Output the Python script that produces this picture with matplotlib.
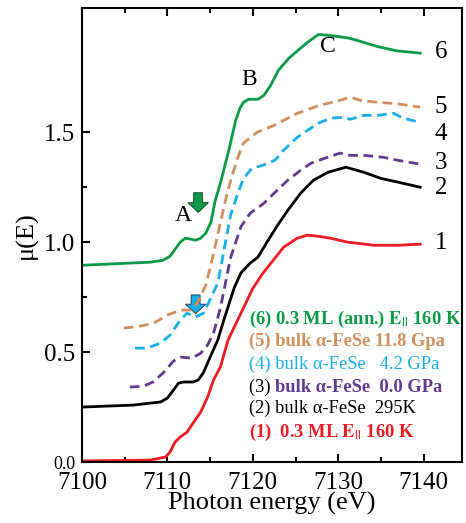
import numpy as np
import matplotlib
matplotlib.use("Agg")
import matplotlib.pyplot as plt
from matplotlib.patches import FancyArrow
from matplotlib.ticker import FixedLocator

# spectres XANES
e1 = [7100, 7106.8, 7108.0, 7109.8, 7110.3, 7110.9, 7111.5, 7112.3, 7113.0, 7113.9, 7114.7, 7115.4,
      7116.2, 7117.1, 7118.5, 7120.0, 7121.2, 7122.4, 7123.6, 7125.2, 7126.4, 7127.6, 7129.1,
      7131.1, 7134.2, 7137.0, 7139.6]
mu1 = [0.005, 0.008, 0.009, 0.023, 0.045, 0.091, 0.114, 0.136, 0.177, 0.227, 0.295, 0.373,
       0.432, 0.555, 0.668, 0.79, 0.86, 0.918, 0.977, 1.018, 1.032, 1.027, 1.018,
       1.0, 0.986, 0.986, 0.991]

e2 = [7100, 7106, 7108.0, 7109.2, 7110.0, 7110.7, 7111.3, 7111.9, 7113.0, 7113.6, 7114.2, 7115.0,
      7115.9, 7116.6, 7117.8, 7118.6, 7119.7, 7120.6, 7121.8, 7122.9, 7124.1, 7125.6, 7127.1,
      7128.8, 7130.9, 7133.0, 7135.0, 7137.0, 7139.6]
mu2 = [0.25, 0.259, 0.268, 0.273, 0.291, 0.327, 0.359, 0.364, 0.364, 0.373, 0.405, 0.477,
       0.555, 0.645, 0.79, 0.86, 0.905, 0.932, 1.009, 1.077, 1.145, 1.223, 1.282,
       1.318, 1.341, 1.318, 1.29, 1.273, 1.25]

e3 = [7105.6, 7107.2, 7108.3, 7109.5, 7110.7, 7111.5, 7112.9, 7113.9, 7114.7, 7115.4, 7116.2,
      7117.4, 7118.6, 7119.7, 7121.3, 7122.5, 7124.1, 7125.6, 7126.8, 7128.3, 7130.2, 7131.4,
      7133.0, 7135.3, 7136.9, 7139.6]
mu3 = [0.341, 0.345, 0.364, 0.405, 0.459, 0.477, 0.473, 0.495, 0.532, 0.586, 0.70,
       0.93, 1.07, 1.132, 1.177, 1.223, 1.282, 1.327, 1.359, 1.38, 1.405, 1.395,
       1.395, 1.386, 1.373, 1.355]

e4 = [7106.2, 7107.6, 7109.2, 7110.3, 7111.5, 7112.3, 7113.3, 7114.2, 7114.8, 7115.9, 7117.4,
      7118.1, 7118.9, 7119.9, 7121.2, 7122.6, 7123.6, 7125.2, 7127.6, 7129.1, 7130.6, 7131.4,
      7133.0, 7134.6, 7136.5, 7137.6, 7139.6]
mu4 = [0.518, 0.518, 0.541, 0.577, 0.645, 0.677, 0.659, 0.677, 0.723, 0.814, 1.123,
       1.205, 1.29, 1.336, 1.35, 1.373, 1.418, 1.477, 1.54, 1.564, 1.568, 1.559,
       1.577, 1.577, 1.586, 1.564, 1.545]

e5 = [7104.9, 7106.8, 7108.4, 7110.0, 7111.5, 7112.7, 7113.5, 7114.5, 7115.3, 7116.0, 7116.8,
      7117.4, 7118.2, 7118.9, 7120.5, 7122.4, 7125.2, 7127.6, 7130.2, 7131.4, 7132.6, 7134.6,
      7136.9, 7139.6]
mu5 = [0.609, 0.618, 0.632, 0.668, 0.691, 0.691, 0.723, 0.805, 0.932, 1.055, 1.19,
       1.28, 1.38, 1.45, 1.50, 1.53, 1.586, 1.62, 1.645, 1.66, 1.645, 1.636,
       1.63, 1.614]

e6 = [7100, 7108.0, 7109.5, 7110.3, 7110.9, 7111.5, 7112.1, 7112.7, 7113.3, 7113.9, 7114.5,
      7115.1, 7115.6, 7116.2, 7117.2, 7118.0, 7118.5, 7118.9, 7119.5, 7120.6, 7121.3, 7122.1,
      7123.0, 7124.2, 7125.3, 7126.4, 7127.7, 7129.1, 7130.6, 7131.4, 7132.2, 7134.6,
      7136.9, 7139.6]
mu6 = [0.895, 0.909, 0.918, 0.936, 0.968, 1.0, 1.018, 1.014, 1.009, 1.018, 1.041,
       1.091, 1.19, 1.268, 1.42, 1.555, 1.61, 1.636, 1.65, 1.65, 1.668, 1.714,
       1.782, 1.836, 1.873, 1.909, 1.945, 1.94, 1.932, 1.927, 1.918, 1.89,
       1.87, 1.86]

labels_num = ['1', '2', '3', '4', '5', '6']
label_y = [0.995, 1.245, 1.36, 1.49, 1.615, 1.865]

plt.rcParams['font.family'] = ['Liberation Serif', 'DejaVu Serif']
plt.rcParams['mathtext.fontset'] = 'stix'

VERT = '#0c9a48'
ORANGE = '#cf8f5e'
CYAN = '#1aaee8'
VIOLET = '#5f3b8f'
ROUGE = '#ec1c24'

fig = plt.figure(figsize=(4.66, 5.23), dpi=100)
ax = fig.add_axes([0.176, 0.1166, 0.8155, 0.868])

lw = 2.0
style = dict(lw=lw, solid_joinstyle='round', dash_joinstyle='round')
ax.plot(e1, mu1, color=ROUGE, **style)
ax.plot(e2, mu2, color='black', **style)
ax.plot(e3, mu3, color=VIOLET, dashes=(3.5, 2), **style)
ax.plot(e4, mu4, color=CYAN, dashes=(3.5, 2), **style)
ax.plot(e5, mu5, color=ORANGE, dashes=(3.5, 2), **style)
ax.plot(e6, mu6, color=VERT, **style)

# numéros des courbes
for lab, y in zip(labels_num, label_y):
    ax.text(7142.0, y, lab, fontsize=18, ha='center', va='center')

# pics A, B, C
ax.text(7111.9, 1.12, 'A', fontsize=17, ha='center', va='center')
ax.text(7119.6, 1.74, 'B', fontsize=17, ha='center', va='center')
ax.text(7128.8, 1.89, 'C', fontsize=17, ha='center', va='center')

# flèches
ax.add_patch(FancyArrow(7113.6, 1.225, 0, -0.09, width=1.05, head_width=2.4,
                        head_length=0.045, length_includes_head=True,
                        facecolor=VERT, edgecolor='#1a3a20', lw=0.6))
ax.add_patch(FancyArrow(7113.3, 0.76, 0, -0.085, width=1.05, head_width=2.4,
                        head_length=0.043, length_includes_head=True,
                        facecolor=CYAN, edgecolor='#1a3050', lw=0.6))

# légende en texte
x0 = 7119.5
fs = 13.3
ax.text(x0, 0.65, r'(6) 0.3 ML (ann.) $\mathbf{E_{||}}$ 160 K', color=VERT,
        fontsize=fs, fontweight='bold', va='center')
ax.text(x0, 0.547, '(5) bulk α-FeSe 11.8 Gpa', color=ORANGE,
        fontsize=fs, fontweight='bold', va='center')
ax.text(x0, 0.445, '(4) bulk α-FeSe   4.2 GPa', color=CYAN, fontsize=fs, va='center')
t3 = ax.text(x0, 0.34, '(3) ', color='black', fontsize=fs, va='center')
ax.annotate('bulk α-FeSe  0.0 GPa', xy=(1, 0.5), xycoords=t3, va='center',
            color=VIOLET, fontsize=fs, fontweight='bold')
ax.text(x0, 0.245, '(2) bulk α-FeSe  295K', color='black', fontsize=fs, va='center')
ax.text(x0, 0.135, r'(1)  0.3 ML $\mathbf{E_{||}}$ 160 K', color=ROUGE,
        fontsize=fs, fontweight='bold', va='center')

ax.set_xlim(7100, 7144.5)
ax.set_ylim(0, 2.065)
ax.set_xticks([7100, 7110, 7120, 7130, 7140])
ax.xaxis.set_minor_locator(FixedLocator([7105, 7115, 7125, 7135]))
ax.set_yticks([0.0, 0.5, 1.0, 1.5])
ax.set_yticklabels(['0.0', '0.5', '1.0', '1.5'])
ax.yaxis.set_minor_locator(FixedLocator([0.25, 0.75, 1.25]))
ax.tick_params(which='both', direction='in', top=True, right=False, labelsize=18, width=1.5)
ax.tick_params(which='major', length=6)
ax.tick_params(which='minor', length=3.5)
ax.tick_params(axis='x', pad=7)
ax.tick_params(axis='y', pad=5)
ax.get_yticklabels()[0].set_fontsize(13)
ax.get_yticklabels()[0].set_y(0.01)
for s in ax.spines.values():
    s.set_linewidth(1.5)

ax.set_xlabel('Photon energy (eV)', fontsize=19, labelpad=-1)
ax.set_ylabel('μ(E)', fontsize=19, labelpad=4)

plt.savefig('out.png', dpi=100)
